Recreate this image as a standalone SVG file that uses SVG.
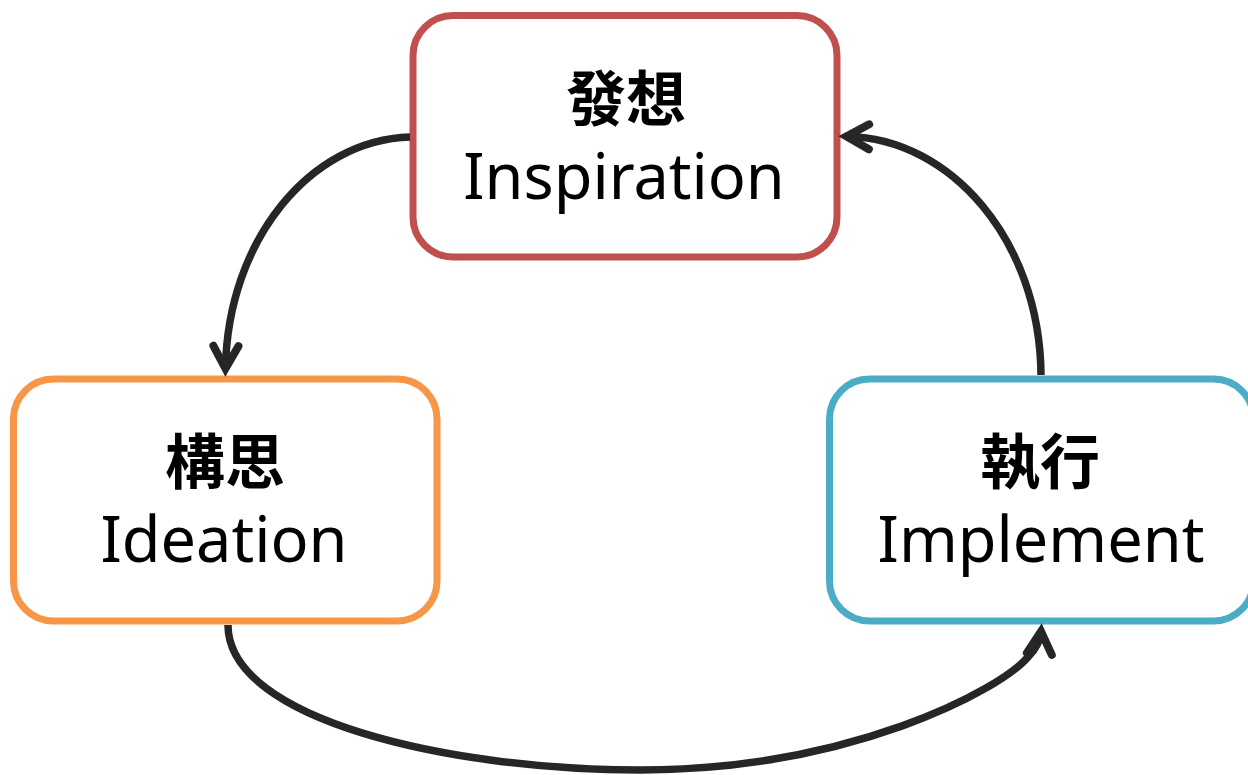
<svg xmlns="http://www.w3.org/2000/svg" width="1248" height="775" viewBox="0 0 1248 775">
<style>
.box{fill:#ffffff;stroke-width:7}
.cjk{font-family:"Noto Sans CJK TC","Noto Sans CJK SC",sans-serif;font-weight:bold;font-size:60px;fill:#000;text-anchor:middle}
.lat{font-family:"Noto Sans","Open Sans",sans-serif;font-size:63px;fill:#000;text-anchor:middle}
.conn{fill:none;stroke:#262626;stroke-width:7.5;stroke-linecap:butt}
</style>
<defs>
<marker id="arr" markerUnits="userSpaceOnUse" orient="auto" refX="0" refY="0" markerWidth="80" markerHeight="80" viewBox="-40 -40 80 80" overflow="visible">
<path d="M-22,-12.5 L0.5,0 L-22,12.5" fill="none" stroke="#262626" stroke-width="8" stroke-linecap="round" stroke-linejoin="miter" stroke-miterlimit="6"/>
</marker>
</defs>
<rect width="1248" height="775" fill="#ffffff"/>
<g id="node-inspiration">
<rect class="box" x="413" y="15.5" width="424" height="241.5" rx="40" ry="40" stroke="#c0504d"/>
<text class="cjk" x="626" y="121">發想</text>
<text class="lat" x="624" y="199">Inspiration</text>
</g>
<g id="node-ideation">
<rect class="box" x="13.5" y="379" width="423.5" height="242" rx="40" ry="40" stroke="#f79646"/>
<text class="cjk" x="225" y="484">構思</text>
<text class="lat" x="224" y="562">Ideation</text>
</g>
<g id="node-implement">
<rect class="box" x="829.5" y="379" width="424" height="242" rx="40" ry="40" stroke="#4bacc6"/>
<text class="cjk" x="1040" y="484">執行</text>
<text class="lat" x="1041" y="562">Implement</text>
</g>
<g id="connectors">
<path class="conn" d="M410,137 C310,140 228,240 225.5,368" marker-end="url(#arr)"/>
<path class="conn" d="M228,625 C228,720 450,770 640,770 C850,770 1000,690 1028,657 Q1040,645 1041,632" marker-end="url(#arr)"/>
<path class="conn" d="M1041,375 C1040,240 950,138 847,136.5" marker-end="url(#arr)"/>
</g>
</svg>
